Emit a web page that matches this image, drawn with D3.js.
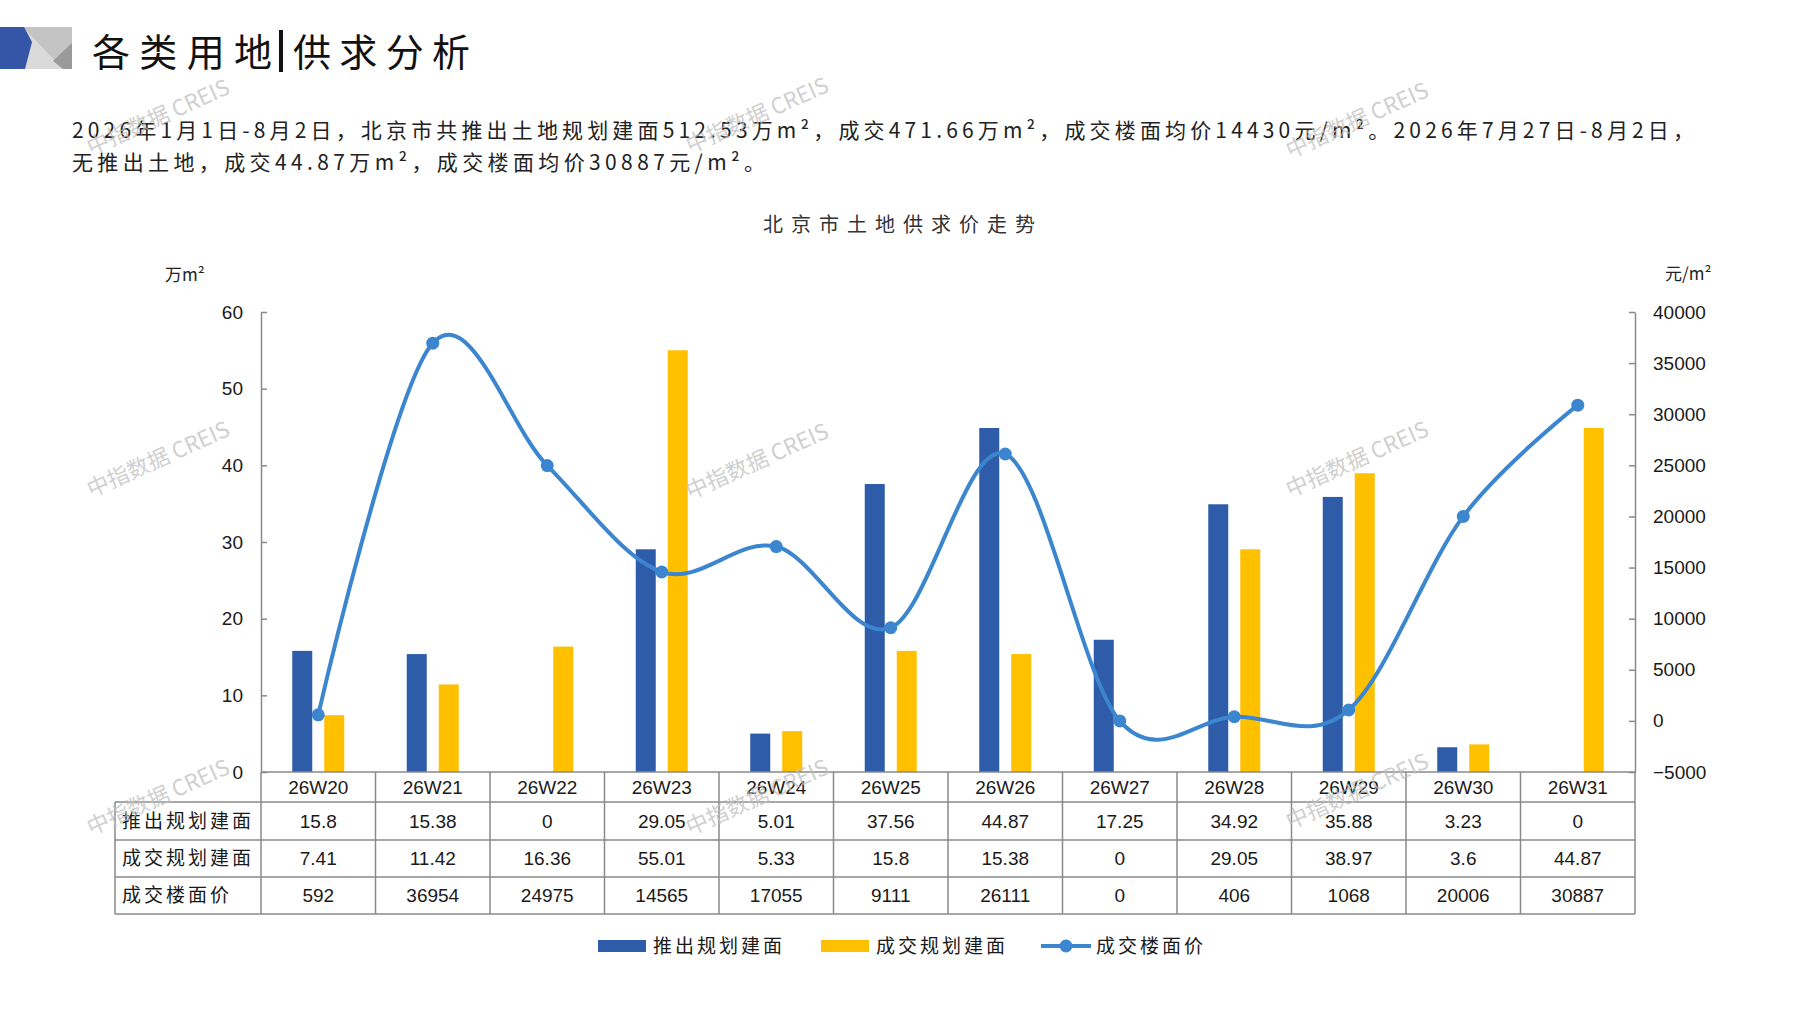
<!DOCTYPE html>
<html>
<head>
<meta charset="utf-8"/>
<title>北京市土地供求价走势</title>
<style>
  body { margin: 0; background: #fff; }
  svg { display: block; }
  .cn { font-family: 'Noto Sans CJK SC', sans-serif; }
  .num { font-family: 'Liberation Sans', Arial, sans-serif; }
  .axis path, .axis line { stroke: #8a8a8a; stroke-width: 1.5px; }
  .axis text { font-family: 'Liberation Sans', Arial, sans-serif; font-size: 19px; fill: #1a1a1a; }
</style>
<script src="https://cdn.jsdelivr.net/npm/d3@7/dist/d3.min.js"></script>
</head>
<body>
<svg id="chart" width="1797" height="1010"></svg>
<script>
// ---- data ----
const weeks = ['26W20', '26W21', '26W22', '26W23', '26W24', '26W25', '26W26', '26W27', '26W28', '26W29', '26W30', '26W31'];
const supplyArea = [15.8, 15.38, 0, 29.05, 5.01, 37.56, 44.87, 17.25, 34.92, 35.88, 3.23, 0];
const dealArea = [7.41, 11.42, 16.36, 55.01, 5.33, 15.8, 15.38, 0, 29.05, 38.97, 3.6, 44.87];
const dealPrice = [592, 36954, 24975, 14565, 17055, 9111, 26111, 0, 406, 1068, 20006, 30887];
const leftTicks = [0, 10, 20, 30, 40, 50, 60];
const rightTicks = [-5000, 0, 5000, 10000, 15000, 20000, 25000, 30000, 35000, 40000];
const seriesNames = ['推出规划建面', '成交规划建面', '成交楼面价'];

const pageTitle = ['各类用地', '供求分析'];
const chartTitle = '北京市土地供求价走势';
const summary = [
  '2026年1月1日-8月2日，北京市共推出土地规划建面512.53万m²，成交471.66万m²，成交楼面均价14430元/m²。2026年7月27日-8月2日，',
  '无推出土地，成交44.87万m²，成交楼面均价30887元/m²。'
];
const watermark = '中指数据 CREIS';

const colors = { supply: '#2e5ca8', deal: '#ffc000', price: '#3b86cf' };

const svg = d3.select('#chart');
const W = +svg.attr('width'), H = +svg.attr('height');
svg.append('rect').attr('width', W).attr('height', H).attr('fill', '#fff');

// ---- header ----
const logo = svg.append('g');
logo.append('rect').attr('x', 22).attr('y', 27).attr('width', 50).attr('height', 42).attr('fill', '#dadada');
logo.append('polygon').attr('points', '23,27 72,27 72,69 63,69').attr('fill', '#c4c4c4');
logo.append('polygon').attr('points', '72,43 72,69 63,69 53,61').attr('fill', '#9a9a9a');
logo.append('polygon').attr('points', '0,27 24,27 32,42 25,69 0,69').attr('fill', '#3556a6');

svg.append('text').attr('class', 'cn')
  .attr('x', 92).attr('y', 52).attr('dy', '0.36em')
  .attr('font-size', 38).attr('fill', '#111')
  .attr('textLength', 180)
  .text(pageTitle[0]);
svg.append('rect').attr('x', 279).attr('y', 30).attr('width', 4).attr('height', 42).attr('fill', '#111');
svg.append('text').attr('class', 'cn')
  .attr('x', 293).attr('y', 52).attr('dy', '0.36em')
  .attr('font-size', 38).attr('fill', '#111')
  .attr('textLength', 177)
  .text(pageTitle[1]);

svg.selectAll('text.summary')
  .data(summary)
  .join('text')
  .attr('class', 'summary cn')
  .attr('x', 72)
  .attr('y', (d, i) => 130 + i * 32)
  .attr('dy', '0.36em')
  .attr('font-size', 21)
  .attr('fill', '#222')
  .attr('textLength', (d, i) => i === 0 ? 1622 : 693)
  .text(d => d);

svg.append('text').attr('class', 'cn')
  .attr('x', 763).attr('y', 225).attr('dy', '0.36em')
  .attr('font-size', 20).attr('fill', '#333')
  .attr('textLength', 272)
  .text(chartTitle);

// ---- scales ----
const plotLeft = 261, plotRight = 1635, plotTop = 312, plotBottom = 772;
const x = d3.scaleBand().domain(weeks).range([plotLeft, plotRight]).padding(0);
const yL = d3.scaleLinear().domain([0, 60]).range([plotBottom, plotTop]);
const yR = d3.scaleLinear().domain([-5000, 40000]).range([plotBottom, plotTop]);
const cx = d => x(d) + x.bandwidth() / 2;
const barW = 20, barOff = 16;

// unit labels
svg.append('text').attr('class', 'cn').attr('x', 165).attr('y', 275).attr('dy', '0.36em')
  .attr('font-size', 17).attr('fill', '#222').text('万m²');
svg.append('text').attr('class', 'cn').attr('x', 1665).attr('y', 274).attr('dy', '0.36em')
  .attr('font-size', 17).attr('fill', '#222').text('元/m²');

// axes
svg.append('g').attr('class', 'axis')
  .attr('transform', `translate(${plotLeft},0)`)
  .call(d3.axisLeft(yL).tickValues(leftTicks).tickSizeInner(-6).tickSizeOuter(0).tickPadding(18));
svg.append('g').attr('class', 'axis')
  .attr('transform', `translate(${plotRight},0)`)
  .call(d3.axisRight(yR).tickValues(rightTicks).tickFormat(d3.format('d'))
    .tickSizeInner(-6).tickSizeOuter(0).tickPadding(18));

// bars
svg.append('g').selectAll('rect')
  .data(weeks)
  .join('rect')
  .attr('x', (d) => cx(d) - barOff - barW / 2)
  .attr('y', (d, i) => yL(supplyArea[i]))
  .attr('width', barW)
  .attr('height', (d, i) => yL(0) - yL(supplyArea[i]))
  .attr('fill', colors.supply);

svg.append('g').selectAll('rect')
  .data(weeks)
  .join('rect')
  .attr('x', (d) => cx(d) + barOff - barW / 2)
  .attr('y', (d, i) => yL(dealArea[i]))
  .attr('width', barW)
  .attr('height', (d, i) => yL(0) - yL(dealArea[i]))
  .attr('fill', colors.deal);

// ---- table ----
const tableLeft = 115;
const rowY = [772, 802, 840, 877, 914];
const grid = svg.append('g').attr('stroke', '#8a8a8a').attr('stroke-width', 1.5);
grid.append('line').attr('x1', plotLeft).attr('x2', plotRight).attr('y1', rowY[0]).attr('y2', rowY[0]);
rowY.slice(1).forEach(y => {
  grid.append('line').attr('x1', tableLeft).attr('x2', plotRight).attr('y1', y).attr('y2', y);
});
grid.append('line').attr('x1', tableLeft).attr('x2', tableLeft).attr('y1', rowY[1]).attr('y2', rowY[4]);
weeks.concat(['end']).forEach((w, i) => {
  const xx = i < weeks.length ? x(w) : plotRight;
  grid.append('line').attr('x1', xx).attr('x2', xx).attr('y1', rowY[0]).attr('y2', rowY[4]);
});

svg.append('g').selectAll('text')
  .data(weeks)
  .join('text')
  .attr('class', 'num')
  .attr('x', d => cx(d))
  .attr('y', (rowY[0] + rowY[1]) / 2)
  .attr('dy', '0.36em')
  .attr('text-anchor', 'middle')
  .attr('font-size', 19)
  .attr('fill', '#1a1a1a')
  .text(d => d);

const tableRows = [supplyArea, dealArea, dealPrice];
tableRows.forEach((vals, r) => {
  const yMid = (rowY[r + 1] + rowY[r + 2]) / 2;
  svg.append('text').attr('class', 'cn')
    .attr('x', 122).attr('y', yMid).attr('dy', '0.36em')
    .attr('font-size', 19).attr('fill', '#1a1a1a')
    .attr('letter-spacing', 3)
    .text(seriesNames[r]);
  svg.append('g').selectAll('text')
    .data(vals)
    .join('text')
    .attr('class', 'num')
    .attr('x', (d, i) => cx(weeks[i]))
    .attr('y', yMid)
    .attr('dy', '0.36em')
    .attr('text-anchor', 'middle')
    .attr('font-size', 19)
    .attr('fill', '#1a1a1a')
    .text(d => String(d));
});

// ---- watermarks ----
const marks = [[158, 117], [757, 115], [1357, 120], [158, 459], [757, 461], [1357, 459], [158, 797], [757, 797], [1357, 791]];
svg.append('g').selectAll('text')
  .data(marks)
  .join('text')
  .attr('class', 'cn')
  .attr('transform', d => `translate(${d[0]},${d[1]}) rotate(-24)`)
  .attr('text-anchor', 'middle')
  .attr('dy', '0.36em')
  .attr('font-size', 22)
  .attr('fill', '#bfbfbf')
  .attr('opacity', 0.75)
  .text(watermark);

// ---- price line ----
const line = d3.line()
  .x((d, i) => cx(weeks[i]))
  .y(d => yR(d))
  .curve(d3.curveCardinal.tension(0));

svg.append('path')
  .datum(dealPrice)
  .attr('d', line)
  .attr('fill', 'none')
  .attr('stroke', colors.price)
  .attr('stroke-width', 4);

svg.append('g').selectAll('circle')
  .data(dealPrice)
  .join('circle')
  .attr('cx', (d, i) => cx(weeks[i]))
  .attr('cy', d => yR(d))
  .attr('r', 6.5)
  .attr('fill', colors.price);

// ---- legend ----
const legendY = 946;
const legend = svg.append('g');
const legendX = [598, 821, 1041];
legend.append('rect').attr('x', legendX[0]).attr('y', legendY - 6).attr('width', 48).attr('height', 12).attr('fill', colors.supply);
legend.append('rect').attr('x', legendX[1]).attr('y', legendY - 6).attr('width', 48).attr('height', 12).attr('fill', colors.deal);
legend.append('line').attr('x1', legendX[2]).attr('x2', legendX[2] + 50).attr('y1', legendY).attr('y2', legendY)
  .attr('stroke', colors.price).attr('stroke-width', 4);
legend.append('circle').attr('cx', legendX[2] + 25).attr('cy', legendY).attr('r', 6.5).attr('fill', colors.price);
legend.selectAll('text')
  .data(seriesNames)
  .join('text')
  .attr('class', 'cn')
  .attr('x', (d, i) => legendX[i] + 55)
  .attr('y', legendY)
  .attr('dy', '0.36em')
  .attr('font-size', 19)
  .attr('fill', '#1a1a1a')
  .attr('letter-spacing', 3)
  .text(d => d);
</script>
</body>
</html>
